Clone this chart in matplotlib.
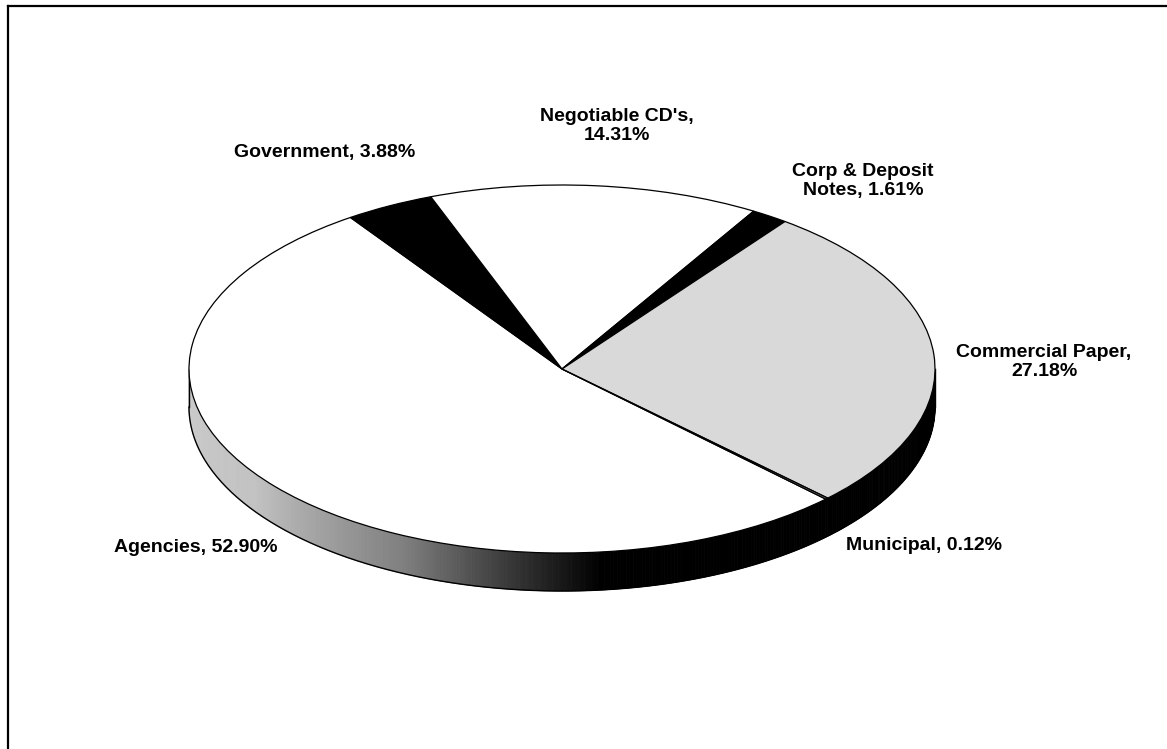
import matplotlib; matplotlib.use("Agg")
import matplotlib.pyplot as plt
import numpy as np
from matplotlib.patches import Polygon
from matplotlib.lines import Line2D

# portfolio shares, clockwise from the Agencies/Municipal boundary
names = ["Agencies", "Government", "Negotiable CD's", "Corp & Deposit\nNotes", "Commercial Paper", "Municipal"]
values = [52.90, 3.88, 14.31, 1.61, 27.18, 0.12]
seps = [", ", ", ", ",\n", ", ", ",\n", ", "]

top_colors = ["#ffffff", "#000000", "#ffffff", "#000000", "#d9d9d9", "#808080"]
lum = [1.0, 0.0, 1.0, 0.0, 0.85, 0.5]
# label centres in pixels (from top-left)
lab_xy = [(196, 548), (325, 152), (617, 126), (863, 181), (1044, 362), (924, 546)]

W, H = 1167, 749
CX, CY, A, B, DEPTH = 562, 369, 373, 184, 38
d = DEPTH / B

fig = plt.figure(figsize=(W / 100, H / 100), dpi=100)
ax = fig.add_axes([0, 0, 1, 1])
wedges, _ = ax.pie(values, colors=top_colors, startangle=-45, counterclock=False,
                   wedgeprops=dict(edgecolor="black", linewidth=0.9))
for w in wedges:
    w.set_zorder(3)
ax.set_aspect("auto")
ax.set_xlim(-CX / A, (W - CX) / A)
ax.set_ylim(-(H - CY) / B, CY / B)
ax.axis("off")


def side_level(th, l):
    th = th % 360
    return l * np.interp(th, [180, 215, 245, 262, 276, 360], [0.80, 0.76, 0.5, 0.22, 0.0, 0.0])


# side wall (front half only)
for w, l in zip(wedges, lum):
    t1, t2 = w.theta1, w.theta2
    for k in range(-2, 2):
        s, e = max(t1, 180 + 360 * k), min(t2, 360 + 360 * k)
        if e <= s:
            continue
        th = np.linspace(s, e, max(2, int((e - s) / 0.5) + 1))
        for a0, a1 in zip(th[:-1], th[1:]):
            r = np.radians([a0, a1])
            pts = [(np.cos(r[0]), np.sin(r[0])), (np.cos(r[1]), np.sin(r[1])),
                   (np.cos(r[1]), np.sin(r[1]) - d), (np.cos(r[0]), np.sin(r[0]) - d)]
            g = side_level((a0 + a1) / 2, l)
            c = (g, g, g)
            ax.add_patch(Polygon(pts, closed=True, facecolor=c, edgecolor=c, lw=0.6, zorder=1))

tt = np.radians(np.linspace(180, 360, 300))
ax.plot(np.cos(tt), np.sin(tt) - d, color="black", lw=1.0, zorder=2)
ax.plot([-1, -1], [0, -d], color="black", lw=1.0, zorder=2)
ax.plot([1, 1], [0, -d], color="black", lw=1.0, zorder=2)

for n, v, s, (px, py) in zip(names, values, seps, lab_xy):
    fig.text(px / W, 1 - py / H, f"{n}{s}{v:.2f}%", ha="center", va="center",
             fontsize=14, fontweight="bold", family="Liberation Sans", linespacing=1.12)

# frame: top and left edges only
fig.add_artist(Line2D([8 / W, 1], [1 - 6 / H, 1 - 6 / H], color="black", lw=1.6))
fig.add_artist(Line2D([8 / W, 8 / W], [0, 1 - 6 / H], color="black", lw=1.6))

fig.savefig("out.png", dpi=100, facecolor="white")
